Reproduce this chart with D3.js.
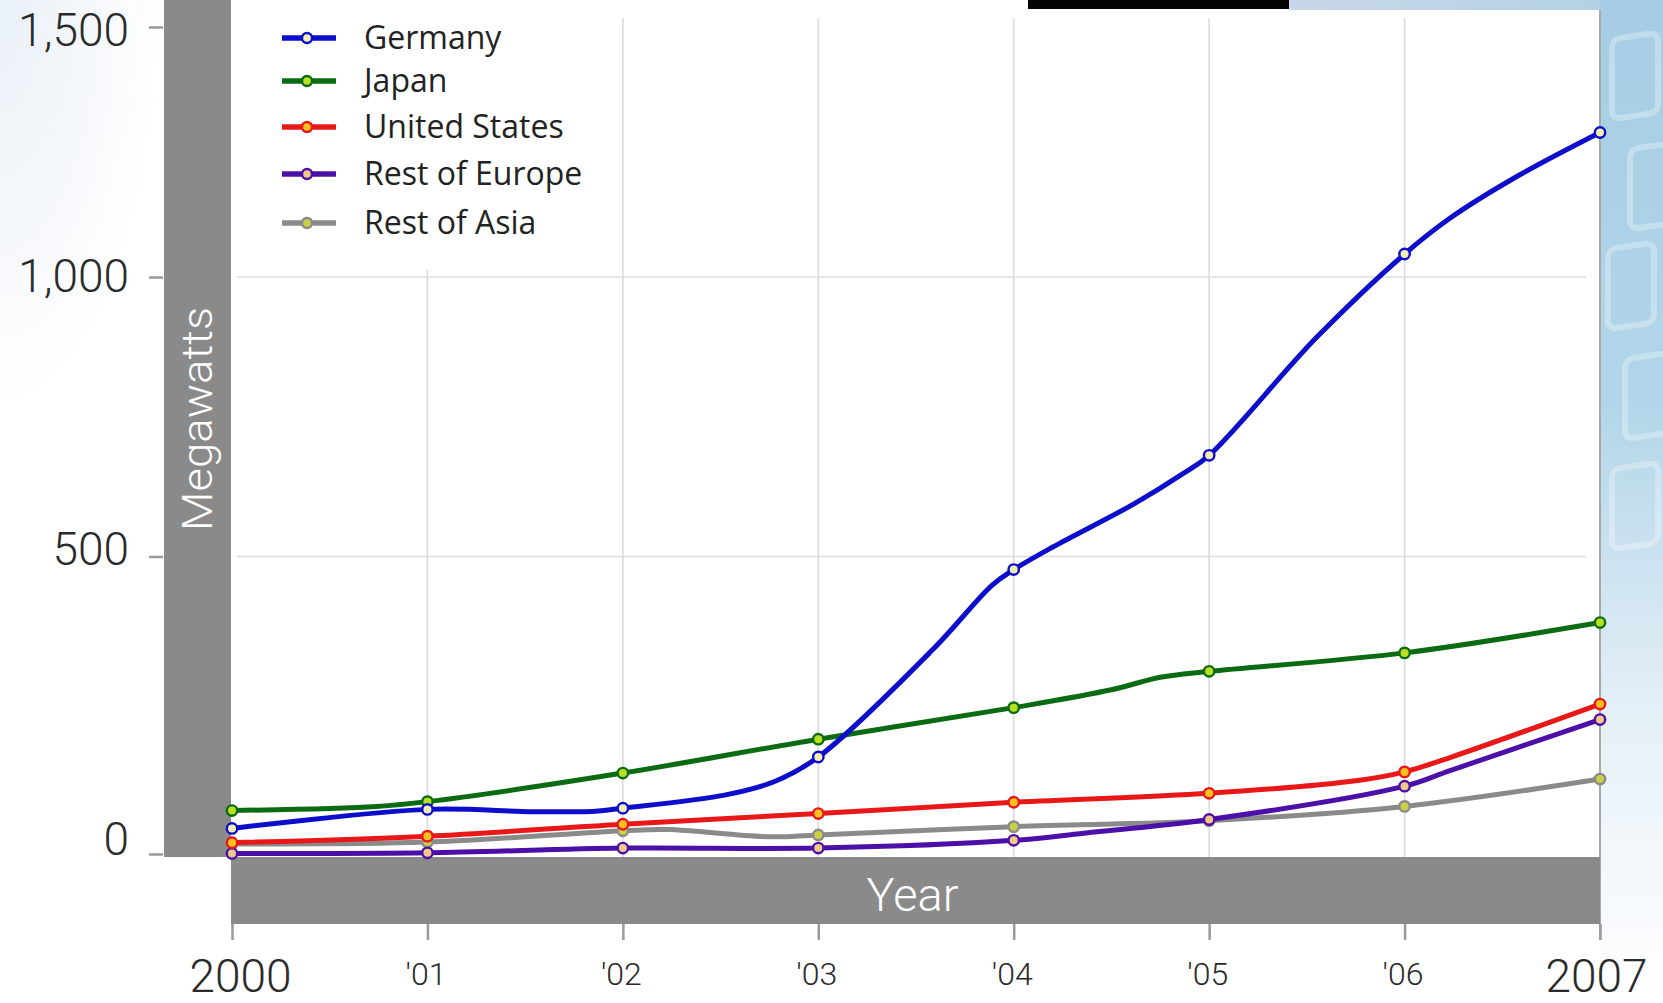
<!DOCTYPE html>
<html>
<head>
<meta charset="utf-8">
<script src="https://cdn.jsdelivr.net/npm/d3@7"></script>
<style>
  html, body { margin: 0; padding: 0; background: #ffffff; overflow: hidden; }
  svg { display: block; }
</style>
</head>
<body>
<svg id="chart" width="1663" height="1003"></svg>
<script>
// ---------------- DATA ----------------
const years = [2000, 2001, 2002, 2003, 2004, 2005, 2006, 2007];
const xTickLabels = ["2000", "'01", "'02", "'03", "'04", "'05", "'06", "2007"];
const yTicks = [0, 500, 1000, 1500];
const seriesNames = ["Germany", "Japan", "United States", "Rest of Europe", "Rest of Asia"];

// yearly values (Megawatts)
const germany       = [43, 75, 77, 163, 478, 681, 1046, 1289];
const japan         = [73, 88, 136, 193, 246, 307, 338, 389];
const unitedStates  = [19, 30, 50, 68, 87, 102, 138, 252];
const restOfEurope  = [1, 2, 10, 10, 23, 58, 114, 226];
const restOfAsia    = [17, 20, 39, 32, 46, 56, 80, 126];

const germanyBetween      = [[2001.54, 71], [2001.86, 72], [2002.52, 99], [2002.77, 121], [2003.59, 345], [2003.89, 452], [2004.2, 517], [2004.62, 595], [2004.87, 649], [2005.55, 892], [2006.23, 1117], [2006.57, 1200]];
const japanBetween        = [[2000.74, 80], [2004.5, 276], [2004.75, 297]];
const unitedStatesBetween = [[2005.77, 124], [2006.24, 163]];
const restOfEuropeBetween = [[2004.36, 35], [2006.24, 141]];
const restOfAsiaBetween   = [[2002.23, 41], [2002.74, 29]];

// ---------------- STYLE ----------------
const seriesStyle = [
  { stroke: "#0d0dcc", fill: "#f2eeb0" },
  { stroke: "#0b6b12", fill: "#b8e020" },
  { stroke: "#e81818", fill: "#ffc020" },
  { stroke: "#4c10a8", fill: "#f0c888" },
  { stroke: "#8a8a8a", fill: "#c8d048" }
];
const seriesValues = [germany, japan, unitedStates, restOfEurope, restOfAsia];
const seriesBetween = [germanyBetween, japanBetween, unitedStatesBetween, restOfEuropeBetween, restOfAsiaBetween];

const svg = d3.select("#chart");
const W = 1663, H = 1003;

// ---------------- SCALES ----------------
const x = d3.scaleLinear().domain([2000, 2007]).range([232, 1600]);
// the photographed chart is slightly foreshortened: piecewise-linear value scale
const y = d3.scaleLinear().domain([0, 500, 1000, 1500]).range([854, 556.5, 277, 27]);

const plotLeft = x(2000) - 1, plotRight = x(2007);
const plotBottom = y(0) + 3;

// ---------------- BACKGROUND ----------------
const defs = svg.append("defs");
const gRight = defs.append("linearGradient").attr("id", "gRight").attr("x1", 0).attr("y1", 0).attr("x2", 0).attr("y2", 1);
gRight.append("stop").attr("offset", "0%").attr("stop-color", "#a6cde4");
gRight.append("stop").attr("offset", "40%").attr("stop-color", "#b2d5e9");
gRight.append("stop").attr("offset", "72%").attr("stop-color", "#e6f0f7");
gRight.append("stop").attr("offset", "100%").attr("stop-color", "#ffffff");
const gTL = defs.append("radialGradient").attr("id", "gTL").attr("cx", 0).attr("cy", 0).attr("r", 1);
gTL.append("stop").attr("offset", "0%").attr("stop-color", "#e9f0f7");
gTL.append("stop").attr("offset", "100%").attr("stop-color", "#ffffff");
const gTop = defs.append("linearGradient").attr("id", "gTop").attr("x1", 0).attr("y1", 0).attr("x2", 1).attr("y2", 0);
gTop.append("stop").attr("offset", "0%").attr("stop-color", "#c9d6ea");
gTop.append("stop").attr("offset", "100%").attr("stop-color", "#b3d2e6");

svg.append("rect").attr("x", 0).attr("y", 0).attr("width", W).attr("height", H).attr("fill", "#ffffff");
svg.append("rect").attr("x", 0).attr("y", 0).attr("width", 164).attr("height", 420).attr("fill", "url(#gTL)");
svg.append("rect").attr("x", plotRight).attr("y", 0).attr("width", W - plotRight).attr("height", H).attr("fill", "url(#gRight)");
svg.append("rect").attr("x", 1289).attr("y", 0).attr("width", plotRight - 1289).attr("height", 10).attr("fill", "url(#gTop)");
svg.append("rect").attr("x", 1028).attr("y", 0).attr("width", 261).attr("height", 9).attr("fill", "#050505");

// decorative solar-panel outlines in the blue strip
const deco = svg.append("g").attr("fill", "none").attr("stroke", "#ffffff").attr("stroke-width", 6).attr("opacity", 0.3);
[[1612, 40], [1630, 150], [1608, 250], [1625, 360], [1612, 470]].forEach(([px, py]) => {
  deco.append("rect").attr("x", px).attr("y", py).attr("width", 46).attr("height", 80).attr("rx", 8)
    .attr("transform", `skewY(-8) translate(0, ${px * 0.14})`);
});

// white plot panel
svg.append("rect").attr("x", plotLeft).attr("y", 10).attr("width", plotRight - plotLeft).attr("height", plotBottom - 10).attr("fill", "#ffffff");

// ---------------- GRID ----------------
const grid = svg.append("g");
grid.selectAll("line.v").data(years.slice(1, -1)).join("line")
  .attr("x1", d => x(d)).attr("x2", d => x(d))
  .attr("y1", 18).attr("y2", plotBottom)
  .attr("stroke", "#dcdcdc").attr("stroke-width", 1.6);
grid.selectAll("line.h").data([500, 1000]).join("line")
  .attr("x1", plotLeft + 6).attr("x2", plotRight - 14)
  .attr("y1", d => y(d)).attr("y2", d => y(d))
  .attr("stroke", "#dcdcdc").attr("stroke-width", 1.6);
// right frame line
svg.append("line").attr("x1", plotRight).attr("x2", plotRight).attr("y1", 10).attr("y2", 940)
  .attr("stroke", "#a8a8a8").attr("stroke-width", 2);

// ---------------- GRAY BARS ----------------
svg.append("rect").attr("x", 164).attr("y", 0).attr("width", plotLeft - 164).attr("height", plotBottom).attr("fill", "#8a8a8a");
svg.append("rect").attr("x", plotLeft).attr("y", plotBottom).attr("width", plotRight - plotLeft).attr("height", 924 - plotBottom).attr("fill", "#8a8a8a");

svg.append("text")
  .attr("transform", `translate(212, 419) rotate(-90)`)
  .attr("text-anchor", "middle")
  .attr("font-family", "Roboto, 'Noto Sans', sans-serif").attr("font-weight", 300)
  .attr("font-size", 42).attr("fill", "#ffffff")
  .attr("textLength", 224).attr("lengthAdjust", "spacingAndGlyphs")
  .text("Megawatts");

svg.append("text")
  .attr("x", (plotLeft + plotRight) / 2 - 3).attr("y", 911)
  .attr("text-anchor", "middle")
  .attr("font-family", "Roboto, 'Noto Sans', sans-serif").attr("font-weight", 300)
  .attr("font-size", 47).attr("fill", "#ffffff")
  .text("Year");

// ---------------- AXES ----------------
const yAxis = svg.append("g").attr("transform", "translate(163,0)")
  .call(d3.axisLeft(y).tickValues(yTicks).tickFormat(d3.format(",")).tickSize(14).tickPadding(20));
yAxis.select(".domain").remove();
yAxis.selectAll(".tick line").attr("stroke", "#9a9a9a").attr("stroke-width", 2.5);
yAxis.selectAll(".tick text")
  .attr("font-family", "Roboto, 'Noto Sans', sans-serif").attr("font-weight", 300)
  .attr("font-size", 46).attr("fill", "#2a2a2a")
  .attr("transform", d => `translate(0, ${d === d3.max(yTicks) ? 4 : -Math.max(0, y(d) - y(1000)) * 0.025})`);

const xAxis = svg.append("g").attr("transform", "translate(0,924)")
  .call(d3.axisBottom(x).tickValues(years).tickFormat((d, i) => xTickLabels[i]).tickSize(16));
xAxis.select(".domain").remove();
xAxis.selectAll(".tick line").attr("stroke", "#9a9a9a").attr("stroke-width", 2.5);
xAxis.selectAll(".tick text")
  .attr("font-family", "Roboto, 'Noto Sans', sans-serif").attr("font-weight", 300)
  .attr("fill", "#2a2a2a")
  .attr("dy", null)
  .attr("font-size", (d, i) => (i === 0 || i === years.length - 1) ? 46 : 32)
  .attr("y", (d, i) => (i === 0 || i === years.length - 1) ? 68 : 61)
  .attr("dx", (d, i) => i === 0 ? 8 : (i === years.length - 1 ? -4 : -2));

// ---------------- LINES ----------------
const line = d3.line().x(d => x(d[0])).y(d => y(d[1])).curve(d3.curveCatmullRom.alpha(0.5));
const order = [4, 3, 2, 1, 0];
order.forEach(si => {
  const pts = years.map((yr, i) => [yr, seriesValues[si][i]])
    .concat(seriesBetween[si])
    .sort((a, b) => a[0] - b[0]);
  const g = svg.append("g");
  g.append("path").datum(pts).attr("d", line)
    .attr("fill", "none").attr("stroke", seriesStyle[si].stroke)
    .attr("stroke-width", 5).attr("stroke-linejoin", "round").attr("stroke-linecap", "round");
  g.selectAll("circle").data(years.map((yr, i) => [yr, seriesValues[si][i]])).join("circle")
    .attr("cx", d => x(d[0])).attr("cy", d => y(d[1])).attr("r", 5.2)
    .attr("fill", seriesStyle[si].fill).attr("stroke", seriesStyle[si].stroke).attr("stroke-width", 2.4);
});

// ---------------- LEGEND ----------------
const legend = svg.append("g");
legend.append("rect").attr("x", 240).attr("y", 12).attr("width", 370).attr("height", 258).attr("fill", "#ffffff");
const rowY = d3.scaleLinear().domain([0, 1, 2, 3, 4]).range([38, 81, 127, 174, 223]);
seriesNames.forEach((name, i) => {
  const cy = rowY(i);
  legend.append("line").attr("x1", 282).attr("x2", 336).attr("y1", cy).attr("y2", cy)
    .attr("stroke", seriesStyle[i].stroke).attr("stroke-width", 5.5);
  legend.append("circle").attr("cx", 307).attr("cy", cy).attr("r", 5)
    .attr("fill", seriesStyle[i].fill).attr("stroke", seriesStyle[i].stroke).attr("stroke-width", 2.4);
  legend.append("text").attr("x", 364).attr("y", cy + 11)
    .attr("font-family", "'Open Sans', 'Noto Sans', sans-serif")
    .attr("font-size", 32).attr("fill", "#222222")
    .text(name);
});
</script>
</body>
</html>
